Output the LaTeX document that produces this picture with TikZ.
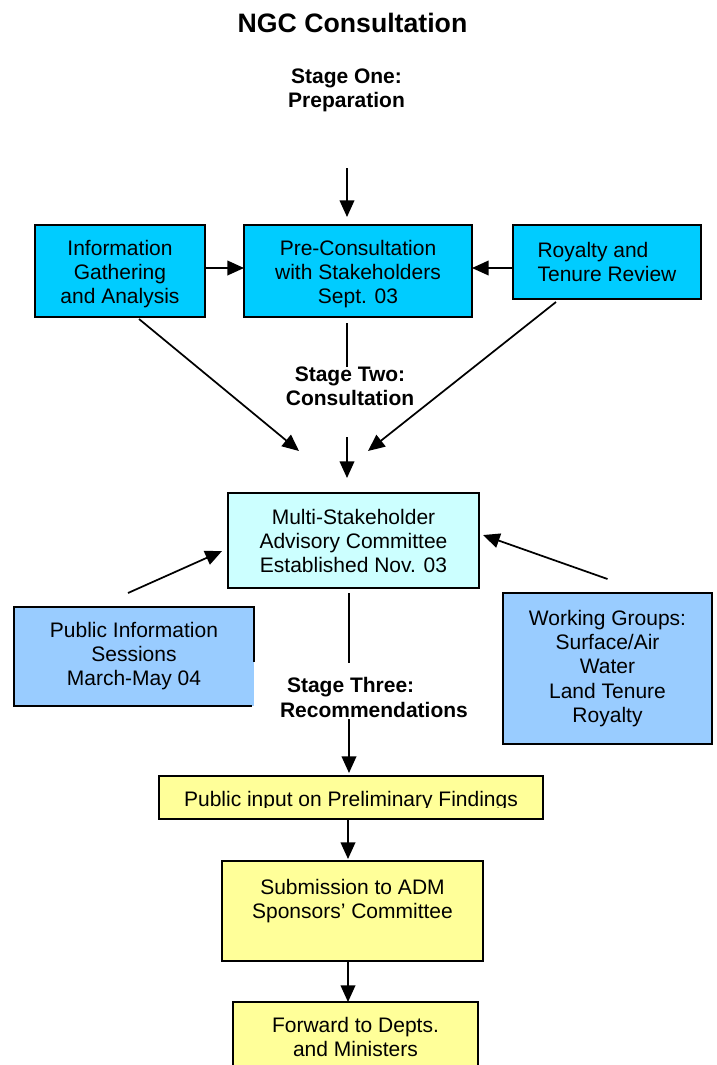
\documentclass[tikz,border=0pt]{standalone}
\usepackage{fontspec}
\setmainfont{Liberation Sans}
\usetikzlibrary{arrows.meta}
\definecolor{prepcyan}{HTML}{00CCFF}
\definecolor{palecyan}{HTML}{CCFFFF}
\definecolor{skyblue}{HTML}{99CCFF}
\definecolor{paleyellow}{HTML}{FFFF99}
\newcommand{\topstrut}{\rule{0pt}{16pt}}
\begin{document}
\begin{tikzpicture}[x=0.75pt,y=-0.75pt,
  every node/.style={inner sep=0pt, outer sep=0pt},
  boxfont/.style={font=\fontsize{15.75}{18}\selectfont},
  flowbox/.style={draw=black, line width=1.3pt, boxfont, align=center},
  stagelabel/.style={font=\fontsize{15.75}{18}\selectfont\bfseries, align=center},
  conn/.style={line width=1.3pt},
  arr/.style={conn, -{Triangle[length=12.5pt,width=11pt]}}]

\useasboundingbox (0,0) rectangle (717,1065);
\clip (0,0) rectangle (717,1065);
\fill[white] (0,0) rectangle (717,1065);

% title and stage one
\node[font=\fontsize{20}{24}\selectfont\bfseries, anchor=base] (title) at (352.5,32) {NGC Consultation};
\node[stagelabel] (stageone) at (346.5,90) {Stage One:\\Preparation};

% stage one boxes
\node[flowbox, fill=prepcyan, minimum width=127.5pt, minimum height=69pt] (info) at (120,271)
  {\topstrut Information\\Gathering\\and Analysis};
\node[flowbox, fill=prepcyan, minimum width=171pt, minimum height=69pt] (pre) at (358,271)
  {\topstrut Pre-Consultation\\with Stakeholders\\Sept. 03};
\node[flowbox, fill=prepcyan, align=left, minimum width=141pt, minimum height=55.5pt] (roy) at (607,262)
  {Royalty and\\Tenure Review};

% stage two
\node[stagelabel] (stagetwo) at (350,386.5) {Stage Two:\\Consultation};
\node[flowbox, fill=palecyan, minimum width=188.25pt, minimum height=71.25pt] (msac) at (353.5,540.5)
  {Multi-Stakeholder\\Advisory Committee\\Established Nov. 03};

% public information sessions: right edge only partly outlined
\node[boxfont, align=center, fill=skyblue, minimum width=180pt, minimum height=74.25pt] (pubinfo) at (134,656.5)
  {Public Information\\Sessions\\March-May 04};
\draw[line width=1.3pt] (pubinfo.east |- 0,662) -- (pubinfo.north east) -- (pubinfo.north west)
  -- (pubinfo.south west) -- ([xshift=-1.5pt]pubinfo.south east);

\node[flowbox, fill=skyblue, minimum width=156.75pt, minimum height=113.25pt] (wg) at (607.5,668.5)
  {Working Groups:\\[0.2pt]Surface/Air\\[0.2pt]Water\\[0.2pt]Land Tenure\\[0.2pt]Royalty};

% stage three
\node[font=\fontsize{15.75}{18}\selectfont\bfseries, anchor=base west] (stagethree) at (287,692) {Stage Three:};
\node[font=\fontsize{15.75}{18}\selectfont\bfseries, anchor=base west] (recomm) at (280,717) {Recommendations};

\node[draw=black, line width=1.3pt, fill=paleyellow, minimum width=288pt, minimum height=32.25pt] (pubinput) at (351,797.5) {};
\begin{scope}
  \clip (pubinput.north west) rectangle (pubinput.east |- 0,807);
  \node[boxfont, anchor=base] (pubinputtext) at (351,806) {Public input on Preliminary Findings};
\end{scope}

\node[flowbox, fill=paleyellow, minimum width=195.75pt, minimum height=75pt] (sub) at (352.5,911)
  {Submission to ADM\\Sponsors’ Committee\\\mbox{}};
\node[flowbox, fill=paleyellow, minimum width=183.75pt, minimum height=52.5pt] (fwd) at (355.5,1037)
  {Forward to Depts.\\and Ministers};

% free ends of connectors
\coordinate (topstart) at (347,168);
\coordinate (twotop) at (347,367);
\coordinate (twobot) at (347,437);
\coordinate (leftend) at (299,451);
\coordinate (rightend) at (368,451);
\coordinate (threetop) at (349,663);
\coordinate (threebot) at (349,719);
\coordinate (lowaxis) at (348,0);

% stage one connectors
\draw[arr, shorten >=6pt] (topstart) -- (topstart |- pre.north);
\draw[arr] ([yshift=2.25pt]info.east) -- ([yshift=2.25pt]pre.west);
\draw[arr] ([yshift=-4.5pt]roy.west) -- ([yshift=2.25pt]pre.east);
\draw[conn, shorten <=4.5pt] (twotop |- pre.south) -- (twotop);

% into the advisory committee
\draw[arr, shorten >=11.25pt] (twobot) -- (twobot |- msac.north);
\draw[arr] ([xshift=14.25pt,yshift=-1.5pt]info.south) -- (leftend);
\draw[arr] ([xshift=-38.25pt,yshift=-2.25pt]roy.south) -- (rightend);
\draw[arr] ([xshift=-4.5pt,yshift=10.5pt]pubinfo.north) -- ([xshift=-4.5pt,yshift=-7.9pt]msac.west);
\draw[arr] ([yshift=10.5pt]wg.north) -- ([xshift=3pt,yshift=4.1pt]msac.east);

% stage three connectors
\draw[conn, shorten <=3.75pt] (threetop |- msac.south) -- (threetop);
\draw[arr, shorten >=2.25pt] (threebot) -- (threebot |- pubinput.north);
\draw[arr, shorten >=1.5pt] (lowaxis |- pubinput.south) -- (lowaxis |- sub.north);
\draw[arr] (lowaxis |- sub.south) -- (lowaxis |- fwd.north);

\end{tikzpicture}
\end{document}
